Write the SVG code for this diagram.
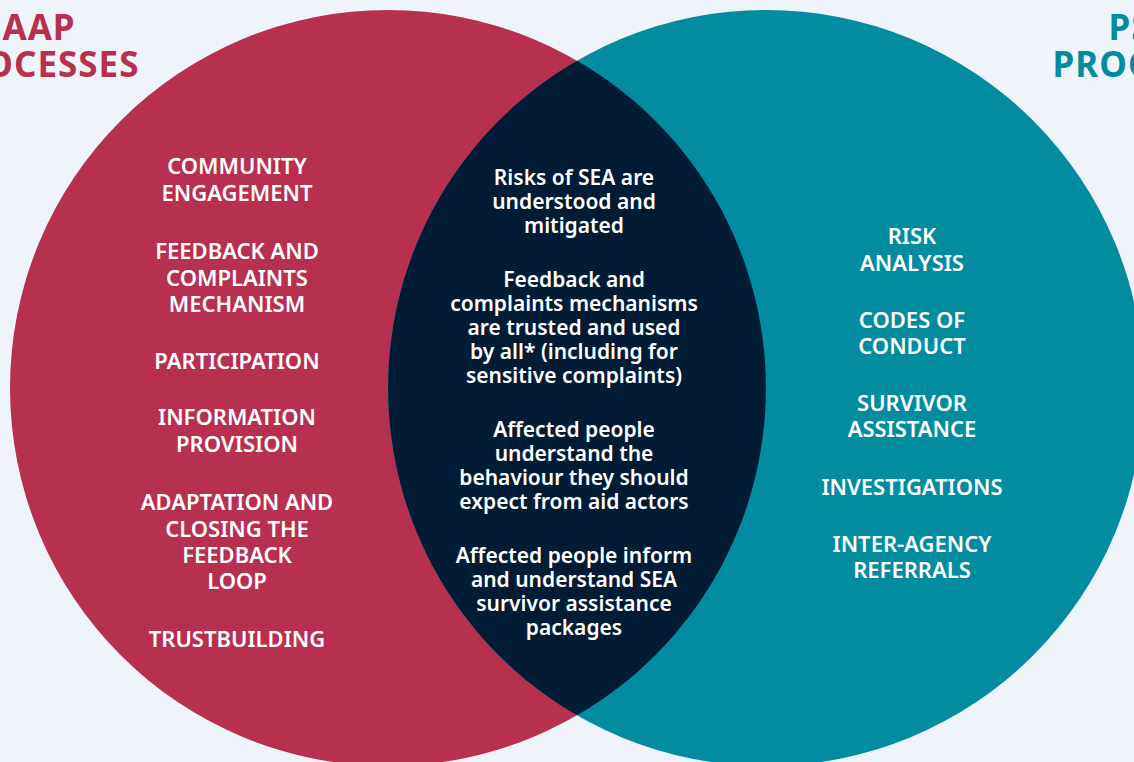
<svg xmlns="http://www.w3.org/2000/svg" width="1134" height="762" viewBox="0 0 1134 762">
<style>
.t{font-family:"Noto Sans","Open Sans","DejaVu Sans",sans-serif;font-weight:600;fill:#ffffff;text-anchor:middle}
.c{font-size:22px}
.m{font-size:21px}
.h{font-family:"Noto Sans","Open Sans","DejaVu Sans",sans-serif;font-weight:700;font-size:35px;letter-spacing:1px;text-anchor:middle}
</style>
<rect width="1134" height="762" fill="#eef4f9"/>
<g id="aap-circle">
<circle cx="388" cy="388" r="378" fill="#b8304f"/>
</g>
<g id="psea-circle">
<circle cx="766" cy="388" r="378" fill="#038b9f"/>
</g>
<g id="overlap">
<path d="M577,60.7 A378,378 0 0 1 577,715.3 A378,378 0 0 1 577,60.7 Z" fill="#011c34"/>
</g>
<g id="aap-title">
<text class="h" fill="#b8304f"><tspan x="39" y="40">AAP</tspan><tspan x="39" y="77">PROCESSES</tspan></text>
</g>
<g id="psea-title">
<text class="h" fill="#038b9f"><tspan x="1153" y="40">PSEA</tspan><tspan x="1153" y="77">PROCESSES</tspan></text>
</g>
<g id="aap-items">
<text class="t c"><tspan x="237" y="174">COMMUNITY</tspan><tspan x="237" y="200.5">ENGAGEMENT</tspan></text>
<text class="t c"><tspan x="237" y="259">FEEDBACK AND</tspan><tspan x="237" y="285.5">COMPLAINTS</tspan><tspan x="237" y="312">MECHANISM</tspan></text>
<text class="t c"><tspan x="237" y="369">PARTICIPATION</tspan></text>
<text class="t c"><tspan x="237" y="425">INFORMATION</tspan><tspan x="237" y="451.5">PROVISION</tspan></text>
<text class="t c"><tspan x="237" y="510">ADAPTATION AND</tspan><tspan x="237" y="536.5">CLOSING THE</tspan><tspan x="237" y="562.5">FEEDBACK</tspan><tspan x="237" y="589">LOOP</tspan></text>
<text class="t c"><tspan x="237" y="647">TRUSTBUILDING</tspan></text>
</g>
<g id="shared-outcomes">
<text class="t m"><tspan x="574" y="185">Risks of SEA are</tspan><tspan x="574" y="209">understood and</tspan><tspan x="574" y="233">mitigated</tspan></text>
<text class="t m"><tspan x="574" y="287">Feedback and</tspan><tspan x="574" y="311">complaints mechanisms</tspan><tspan x="574" y="335">are trusted and used</tspan><tspan x="574" y="359">by all* (including for</tspan><tspan x="574" y="383">sensitive complaints)</tspan></text>
<text class="t m"><tspan x="574" y="437">Affected people</tspan><tspan x="574" y="461">understand the</tspan><tspan x="574" y="485">behaviour they should</tspan><tspan x="574" y="509">expect from aid actors</tspan></text>
<text class="t m"><tspan x="574" y="563">Affected people inform</tspan><tspan x="574" y="587">and understand SEA</tspan><tspan x="574" y="611">survivor assistance</tspan><tspan x="574" y="635">packages</tspan></text>
</g>
<g id="psea-items">
<text class="t c"><tspan x="912" y="244">RISK</tspan><tspan x="912" y="271">ANALYSIS</tspan></text>
<text class="t c"><tspan x="912" y="328">CODES OF</tspan><tspan x="912" y="354">CONDUCT</tspan></text>
<text class="t c"><tspan x="912" y="411">SURVIVOR</tspan><tspan x="912" y="437">ASSISTANCE</tspan></text>
<text class="t c"><tspan x="912" y="495">INVESTIGATIONS</tspan></text>
<text class="t c"><tspan x="912" y="552">INTER-AGENCY</tspan><tspan x="912" y="578">REFERRALS</tspan></text>
</g>
</svg>
